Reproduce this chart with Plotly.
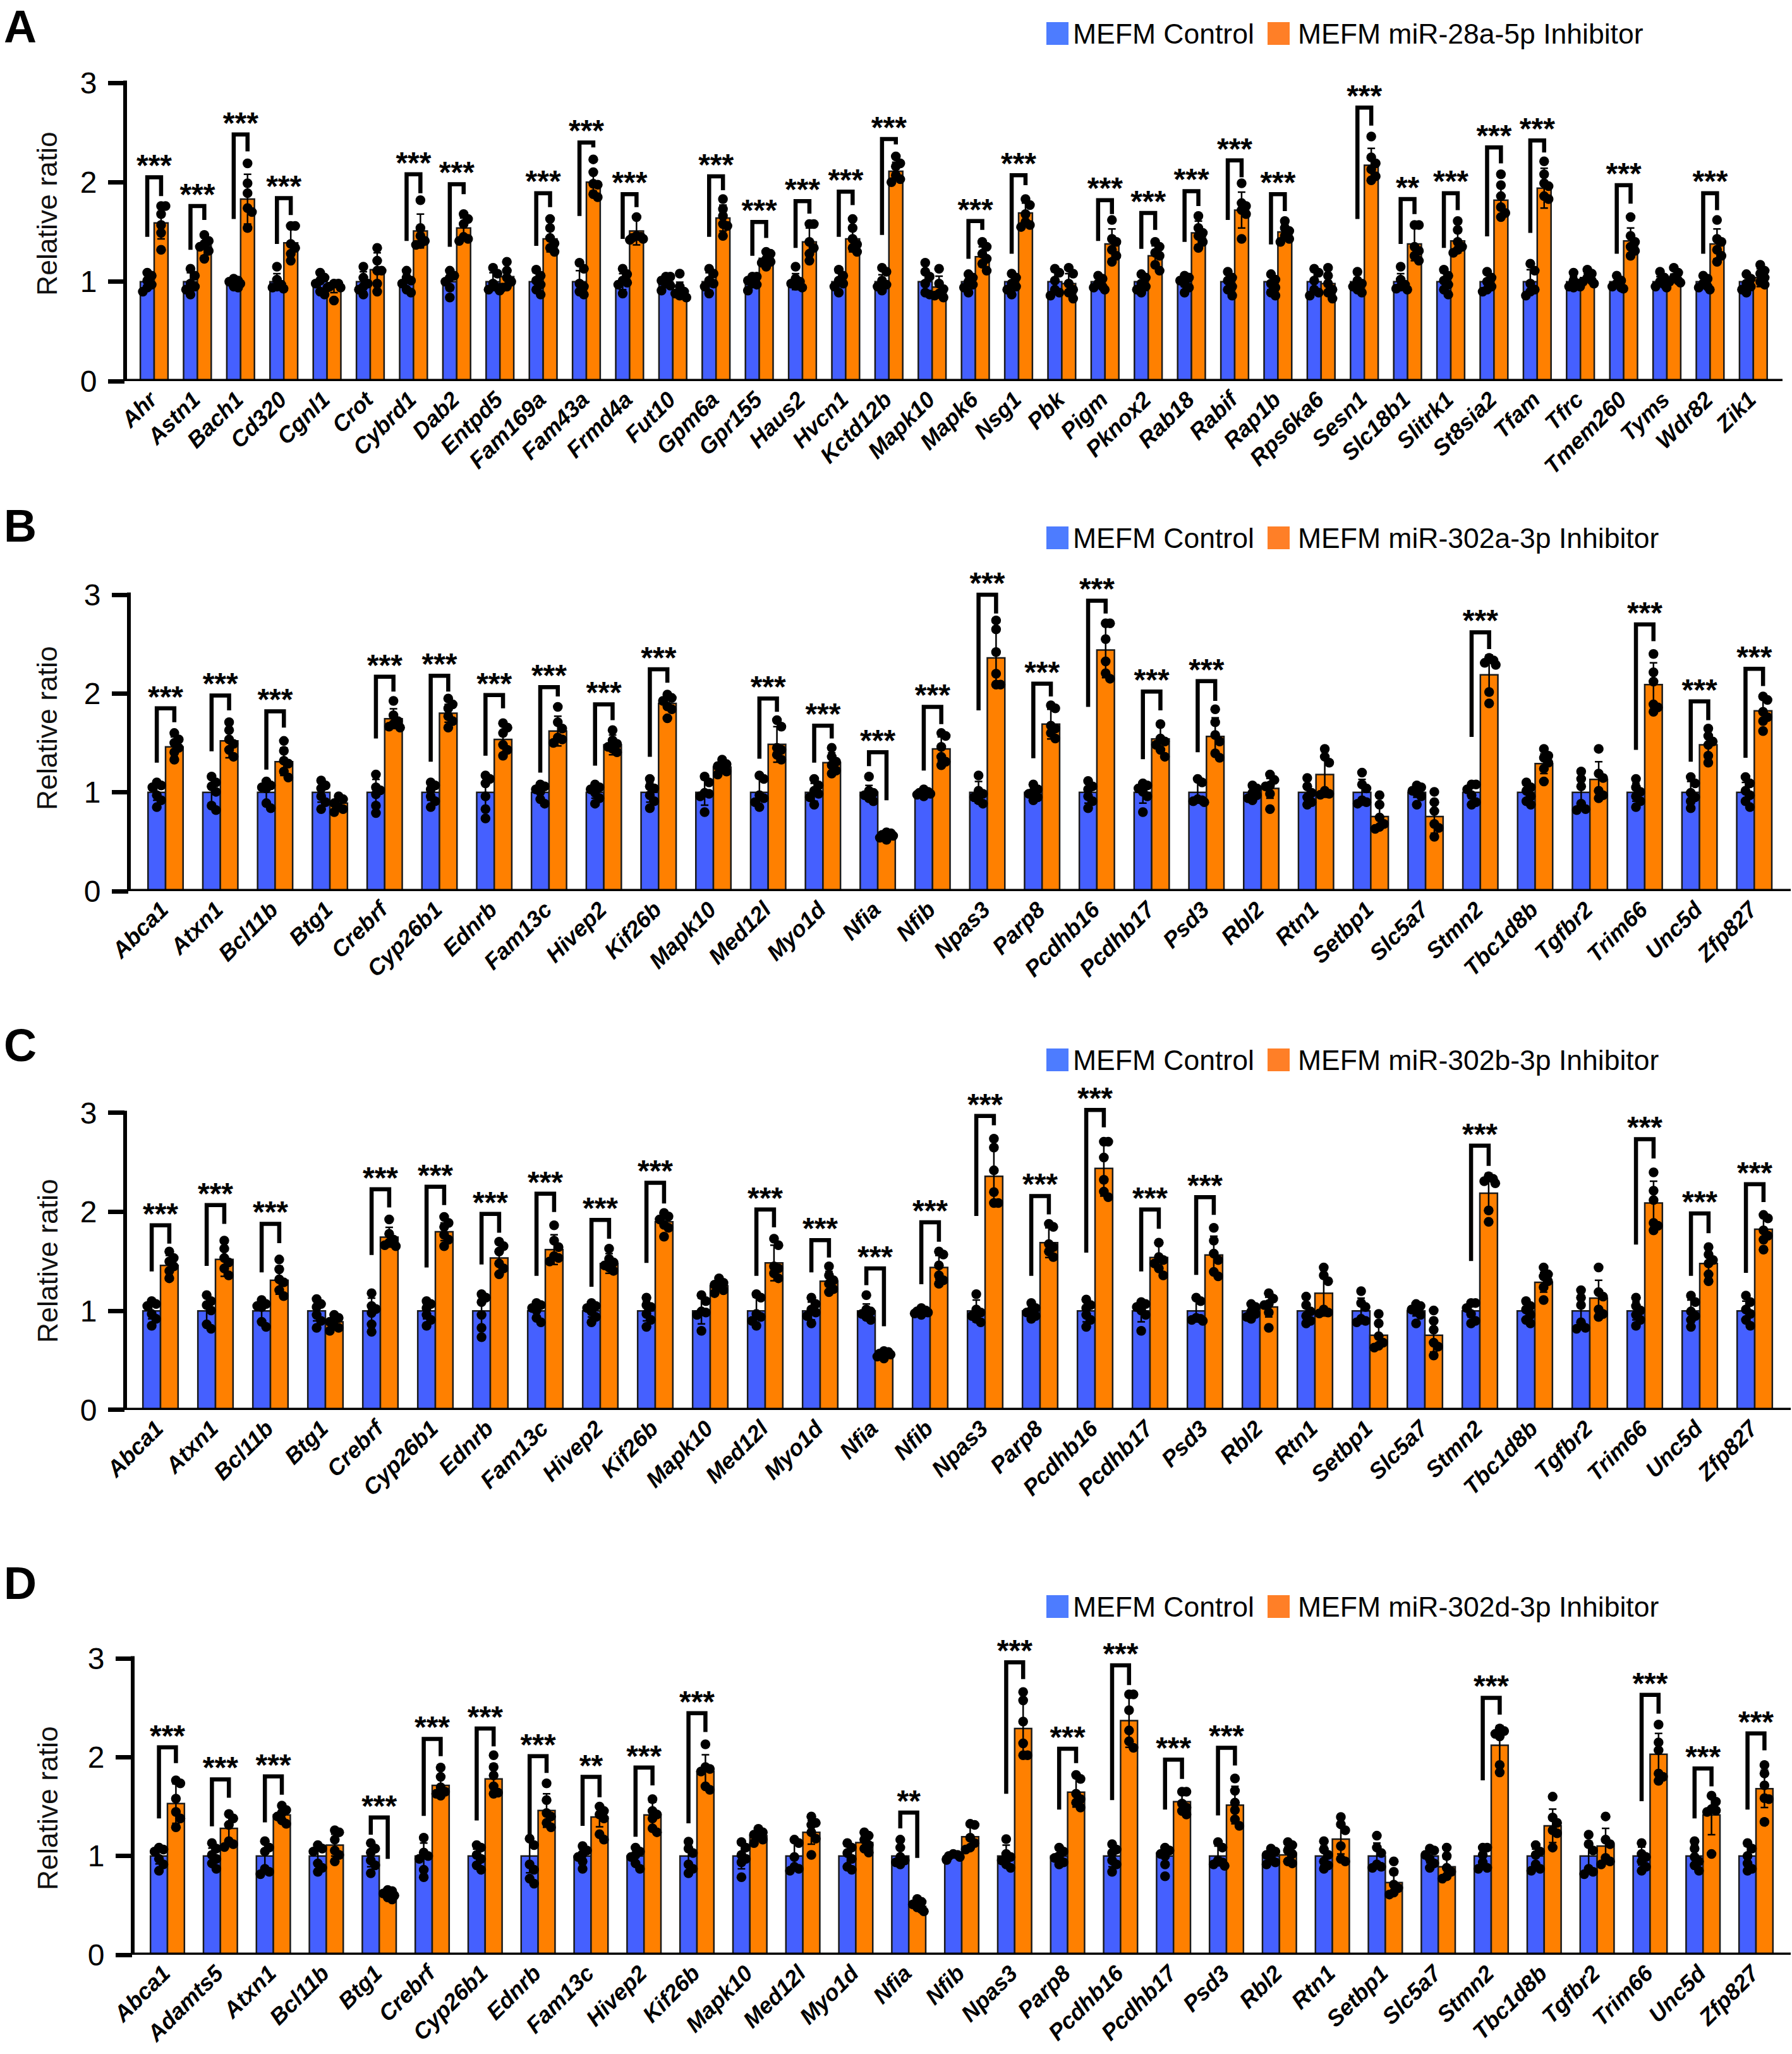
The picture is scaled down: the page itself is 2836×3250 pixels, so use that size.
import plotly.graph_objects as go

# Fonte e cores
FONT = "Liberation Sans"
BLUE = "#4560FF"
ORANGE = "#FF8000"
SWATCH_BLUE = "#4D7CFF"
SWATCH_ORANGE = "#FF7F27"
W, H = 2836, 3250
Y_MAX = 3.5  # folga acima do 3 para colchetes e estrelas

# ---------- Painel A ----------
genes_a = ["Ahr", "Astn1", "Bach1", "Cd320", "Cgnl1", "Crot", "Cybrd1", "Dab2", "Entpd5", "Fam169a",
           "Fam43a", "Frmd4a", "Fut10", "Gpm6a", "Gpr155", "Haus2", "Hvcn1", "Kctd12b", "Mapk10", "Mapk6",
           "Nsg1", "Pbk", "Pigm", "Pknox2", "Rab18", "Rabif", "Rap1b", "Rps6ka6", "Sesn1", "Slc18b1",
           "Slitrk1", "St8sia2", "Tfam", "Tfrc", "Tmem260", "Tyms", "Wdr82", "Zik1"]
inh_mean_a = [1.59, 1.36, 1.83, 1.39, 0.94, 1.12, 1.51, 1.54, 1.05, 1.43, 2.0, 1.51, 0.915, 1.64, 1.235, 1.40, 1.43, 2.11, 0.945,
              1.25, 1.69, 0.98, 1.38, 1.26, 1.49, 1.72, 1.5, 0.98, 2.17, 1.38, 1.41, 1.82, 1.94, 1.04, 1.41, 1.035, 1.38, 1.04]
inh_err_a = [0.16, 0.1, 0.25, 0.18, 0.05, 0.17, 0.17, 0.1, 0.08, 0.13, 0.09, 0.14, 0.08, 0.13, 0.07, 0.14, 0.13, 0.09, 0.11,
             0.1, 0.1, 0.1, 0.15, 0.1, 0.12, 0.18, 0.07, 0.1, 0.17, 0.17, 0.12, 0.17, 0.2, 0.04, 0.13, 0.04, 0.15, 0.09]
ctrl_err_a = [0.07, 0.09, 0.04, 0.08, 0.08, 0.1, 0.07, 0.09, 0.09, 0.09, 0.11, 0.08, 0.05, 0.09, 0.05, 0.08, 0.09, 0.07, 0.12,
              0.08, 0.09, 0.1, 0.05, 0.06, 0.05, 0.1, 0.08, 0.1, 0.07, 0.08, 0.09, 0.08, 0.12, 0.05, 0.05, 0.05, 0.05, 0.06]
ctrl_pts_a = [
    [1.09, 1.06, 1.01, 0.97, 0.94, 0.90], [1.13, 1.06, 0.98, 0.95, 0.92, 0.87], [1.03, 1.01, 1.0, 0.98, 0.95, 0.94],
    [1.15, 1.02, 0.97, 0.95, 0.94, 0.93], [1.09, 1.04, 1.01, 0.98, 0.90, 0.87], [1.15, 1.04, 0.98, 0.95, 0.92, 0.87],
    [1.11, 1.04, 1.01, 0.98, 0.92, 0.89], [1.11, 1.06, 1.04, 1.0, 0.94, 0.84], [1.14, 1.08, 0.98, 0.94, 0.92, 0.91],
    [1.12, 1.06, 1.01, 0.97, 0.92, 0.87], [1.19, 1.13, 0.98, 0.95, 0.90, 0.87], [1.13, 1.075, 1.01, 0.99, 0.97, 0.88],
    [1.05, 1.05, 1.01, 0.98, 0.96, 0.91], [1.13, 1.08, 1.01, 0.98, 0.95, 0.88], [1.05, 1.05, 1.01, 0.98, 0.97, 0.91],
    [1.15, 1.03, 1.0, 0.98, 0.96, 0.94], [1.12, 1.06, 1.01, 0.98, 0.95, 0.89], [1.14, 1.10, 1.01, 0.97, 0.95, 0.91],
    [1.19, 1.10, 1.05, 0.98, 0.89, 0.87], [1.075, 1.04, 1.0, 0.97, 0.94, 0.89], [1.08, 1.04, 0.98, 0.95, 0.92, 0.87],
    [1.13, 1.09, 1.01, 0.92, 0.89, 0.86], [1.06, 1.03, 0.98, 0.95, 0.94, 0.92], [1.075, 1.04, 0.98, 0.95, 0.92, 0.89],
    [1.06, 1.04, 1.01, 0.98, 0.94, 0.89], [1.1, 1.04, 1.01, 0.95, 0.92, 0.86], [1.075, 1.02, 0.98, 0.94, 0.89, 0.86],
    [1.13, 1.09, 1.01, 0.92, 0.89, 0.86], [1.1, 1.01, 0.98, 0.95, 0.92, 0.89], [1.15, 1.02, 0.97, 0.95, 0.93, 0.92],
    [1.12, 1.06, 1.01, 0.97, 0.92, 0.87], [1.1, 1.04, 1.0, 0.95, 0.92, 0.9], [1.18, 1.11, 0.98, 0.92, 0.9, 0.86],
    [1.09, 1.01, 0.98, 0.95, 0.95, 0.94], [1.06, 1.01, 0.98, 0.95, 0.94, 0.93], [1.1, 1.04, 1.0, 0.97, 0.95, 0.94],
    [1.06, 1.03, 0.98, 0.95, 0.94, 0.92], [1.075, 1.03, 0.98, 0.95, 0.92, 0.89]]
inh_pts_a = [
    [1.76, 1.76, 1.68, 1.57, 1.49, 1.32], [1.47, 1.41, 1.38, 1.35, 1.31, 1.23], [2.19, 1.99, 1.89, 1.74, 1.70, 1.54],
    [1.56, 1.56, 1.38, 1.34, 1.28, 1.21], [0.98, 0.98, 0.95, 0.94, 0.94, 0.81], [1.34, 1.21, 1.11, 1.11, 0.98, 0.90],
    [1.82, 1.54, 1.46, 1.41, 1.38, 1.37], [1.68, 1.63, 1.58, 1.45, 1.43, 1.41], [1.2, 1.11, 1.04, 1.0, 0.95, 0.94],
    [1.63, 1.54, 1.44, 1.385, 1.34, 1.30], [2.23, 2.10, 1.985, 1.975, 1.88, 1.85], [1.65, 1.46, 1.45, 1.44, 1.43, 1.42],
    [1.08, 0.95, 0.90, 0.88, 0.86, 0.84], [1.83, 1.73, 1.66, 1.58, 1.56, 1.46], [1.30, 1.28, 1.225, 1.2, 1.19, 1.15],
    [1.58, 1.58, 1.40, 1.34, 1.28, 1.21], [1.63, 1.54, 1.43, 1.375, 1.34, 1.30], [2.26, 2.19, 2.16, 2.07, 2.03, 2.0],
    [1.13, 0.98, 0.925, 0.88, 0.86, 0.84], [1.40, 1.35, 1.28, 1.23, 1.18, 1.11], [1.83, 1.77, 1.68, 1.6, 1.57, 1.55],
    [1.14, 1.08, 0.98, 0.92, 0.89, 0.83], [1.62, 1.43, 1.4, 1.32, 1.26, 1.2], [1.4, 1.35, 1.29, 1.26, 1.17, 1.11],
    [1.66, 1.54, 1.49, 1.46, 1.4, 1.34], [1.99, 1.79, 1.76, 1.72, 1.68, 1.43], [1.61, 1.54, 1.51, 1.46, 1.43, 1.4],
    [1.14, 1.06, 0.98, 0.92, 0.89, 0.83], [2.46, 2.25, 2.19, 2.13, 2.06, 2.02], [1.57, 1.57, 1.35, 1.31, 1.26, 1.21],
    [1.61, 1.52, 1.4, 1.35, 1.32, 1.29], [2.08, 1.97, 1.86, 1.75, 1.69, 1.65], [2.21, 2.08, 1.99, 1.96, 1.86, 1.83],
    [1.12, 1.08, 1.04, 1.01, 1.0, 0.98], [1.65, 1.46, 1.4, 1.35, 1.31, 1.26], [1.14, 1.09, 1.04, 1.01, 1.0, 0.99],
    [1.62, 1.43, 1.4, 1.32, 1.26, 1.2], [1.17, 1.11, 1.08, 1.04, 1.0, 0.97]]
# gene: (estrelas, topo, perna esquerda, perna direita)
sig_a = {"Ahr": ("***", 2.05, 1.45, 1.86), "Astn1": ("***", 1.76, 1.32, 1.62), "Bach1": ("***", 2.48, 1.63, 2.31),
         "Cd320": ("***", 1.84, 1.38, 1.67), "Cybrd1": ("***", 2.08, 1.41, 1.89), "Dab2": ("***", 1.98, 1.35, 1.88),
         "Fam169a": ("***", 1.89, 1.36, 1.75), "Fam43a": ("***", 2.40, 1.66, 2.35), "Frmd4a": ("***", 1.88, 1.43, 1.75),
         "Gpm6a": ("***", 2.06, 1.45, 1.92), "Gpr155": ("***", 1.60, 1.26, 1.44), "Haus2": ("***", 1.81, 1.34, 1.685),
         "Hvcn1": ("***", 1.905, 1.45, 1.77), "Kctd12b": ("***", 2.435, 1.47, 2.38), "Mapk6": ("***", 1.61, 1.23, 1.52),
         "Nsg1": ("***", 2.07, 1.28, 1.97), "Pigm": ("***", 1.82, 1.41, 1.68), "Pknox2": ("***", 1.69, 1.33, 1.52),
         "Rab18": ("***", 1.91, 1.40, 1.76), "Rabif": ("***", 2.22, 1.62, 2.05), "Rap1b": ("***", 1.88, 1.375, 1.71),
         "Sesn1": ("***", 2.75, 1.63, 2.57), "Slc18b1": ("**", 1.83, 1.38, 1.68), "Slitrk1": ("***", 1.89, 1.34, 1.72),
         "St8sia2": ("***", 2.35, 1.455, 2.19), "Tfam": ("***", 2.42, 1.49, 2.3), "Tmem260": ("***", 1.97, 1.28, 1.785),
         "Wdr82": ("***", 1.89, 1.28, 1.72)}

# ---------- Paineis B e C (mesmos valores de barras) ----------
genes_b = ["Abca1", "Atxn1", "Bcl11b", "Btg1", "Crebrf", "Cyp26b1", "Ednrb", "Fam13c", "Hivep2", "Kif26b",
           "Mapk10", "Med12l", "Myo1d", "Nfia", "Nfib", "Npas3", "Parp8", "Pcdhb16", "Pcdhb17", "Psd3",
           "Rbl2", "Rtn1", "Setbp1", "Slc5a7", "Stmn2", "Tbc1d8b", "Tgfbr2", "Trim66", "Unc5d", "Zfp827"]
inh_mean_b = [1.46, 1.52, 1.31, 0.89, 1.745, 1.80, 1.535, 1.62, 1.48, 1.90, 1.255, 1.485, 1.30, 0.56, 1.44,
              2.36, 1.69, 2.44, 1.54, 1.565, 1.04, 1.18, 0.755, 0.755, 2.19, 1.29, 1.13, 2.09, 1.48, 1.825]
inh_err_b = [0.1, 0.17, 0.14, 0.05, 0.1, 0.09, 0.14, 0.15, 0.1, 0.05, 0.05, 0.18, 0.1, 0.02, 0.12,
             0.29, 0.15, 0.28, 0.13, 0.19, 0.1, 0.23, 0.1, 0.17, 0.2, 0.1, 0.18, 0.22, 0.1, 0.12]
ctrl_err_b = [0.08, 0.14, 0.09, 0.1, 0.13, 0.08, 0.17, 0.07, 0.06, 0.1, 0.13, 0.14, 0.09, 0.07, 0.02,
              0.11, 0.06, 0.11, 0.11, 0.11, 0.06, 0.12, 0.13, 0.05, 0.06, 0.07, 0.15, 0.09, 0.11, 0.1]
ctrl_pts_b = [
    [1.10, 1.07, 1.05, 0.97, 0.92, 0.85], [1.16, 1.10, 1.06, 1.005, 0.865, 0.82], [1.11, 1.07, 1.05, 1.04, 0.89, 0.84],
    [1.12, 1.07, 1.04, 0.96, 0.9, 0.83], [1.18, 1.05, 1.02, 0.98, 0.865, 0.79], [1.10, 1.07, 1.03, 0.96, 0.91, 0.85],
    [1.17, 1.135, 1.09, 0.96, 0.83, 0.735], [1.08, 1.06, 1.03, 1.005, 0.93, 0.885], [1.08, 1.05, 1.03, 0.995, 0.94, 0.885],
    [1.135, 1.06, 1.04, 0.97, 0.91, 0.84], [1.16, 1.10, 0.995, 0.985, 0.96, 0.8], [1.17, 1.135, 0.97, 0.94, 0.9, 0.85],
    [1.135, 1.07, 1.015, 0.985, 0.95, 0.875], [1.16, 1.015, 0.995, 0.97, 0.94, 0.91], [1.03, 1.005, 0.995, 0.985, 0.975, 0.96],
    [1.17, 1.015, 0.985, 0.95, 0.92, 0.885], [1.08, 1.03, 1.005, 0.985, 0.95, 0.92], [1.115, 1.06, 1.03, 0.96, 0.91, 0.84],
    [1.09, 1.07, 1.04, 1.005, 0.96, 0.8], [1.135, 1.10, 0.93, 0.92, 0.91, 0.9], [1.07, 1.04, 0.995, 0.97, 0.94, 0.92],
    [1.145, 1.06, 0.995, 0.95, 0.9, 0.875], [1.2, 1.08, 1.04, 0.92, 0.9, 0.885], [1.07, 1.05, 1.015, 0.995, 0.96, 0.875],
    [1.08, 1.08, 1.03, 0.97, 0.9, 0.875], [1.10, 1.05, 1.015, 0.96, 0.91, 0.875], [1.21, 1.135, 1.06, 0.885, 0.83, 0.82],
    [1.135, 1.05, 1.005, 0.96, 0.91, 0.85], [1.155, 1.09, 0.995, 0.95, 0.91, 0.84], [1.155, 1.09, 1.015, 0.97, 0.91, 0.85]]
inh_pts_b = [
    [1.6, 1.535, 1.50, 1.45, 1.405, 1.33], [1.71, 1.63, 1.535, 1.49, 1.43, 1.36], [1.52, 1.42, 1.32, 1.29, 1.21, 1.15],
    [0.96, 0.93, 0.89, 0.85, 0.83, 0.80], [1.925, 1.78, 1.72, 1.69, 1.665, 1.655], [1.95, 1.89, 1.85, 1.77, 1.72, 1.655],
    [1.70, 1.655, 1.6, 1.48, 1.43, 1.37], [1.865, 1.71, 1.645, 1.555, 1.535, 1.50], [1.63, 1.525, 1.49, 1.46, 1.44, 1.405],
    [1.99, 1.955, 1.925, 1.87, 1.84, 1.75], [1.33, 1.285, 1.265, 1.24, 1.21, 1.18], [1.73, 1.665, 1.45, 1.43, 1.38, 1.33],
    [1.45, 1.36, 1.31, 1.275, 1.22, 1.19], [0.595, 0.585, 0.57, 0.56, 0.54, 0.52], [1.60, 1.57, 1.46, 1.36, 1.31, 1.275],
    [2.74, 2.65, 2.42, 2.2, 2.09, 2.09], [1.88, 1.85, 1.675, 1.645, 1.6, 1.545], [2.71, 2.71, 2.55, 2.325, 2.205, 2.15],
    [1.69, 1.545, 1.515, 1.48, 1.43, 1.36], [1.84, 1.71, 1.58, 1.515, 1.395, 1.35], [1.18, 1.125, 1.07, 1.06, 0.985, 0.83],
    [1.44, 1.36, 1.30, 1.015, 0.985, 0.975], [0.97, 0.875, 0.745, 0.68, 0.65, 0.63], [1.005, 0.9, 0.81, 0.68, 0.64, 0.55],
    [2.36, 2.335, 2.31, 2.29, 2.015, 1.90], [1.44, 1.37, 1.35, 1.3, 1.24, 1.11], [1.44, 1.19, 1.145, 1.015, 0.97, 0.94],
    [2.4, 2.215, 2.12, 1.89, 1.86, 1.815], [1.645, 1.57, 1.515, 1.48, 1.37, 1.30], [1.97, 1.935, 1.815, 1.76, 1.72, 1.62]]
sig_b = {"Abca1": ("***", 1.85, 1.30, 1.71), "Atxn1": ("***", 1.98, 1.415, 1.83), "Bcl11b": ("***", 1.82, 1.23, 1.655),
         "Crebrf": ("***", 2.17, 1.545, 2.02), "Cyp26b1": ("***", 2.18, 1.31, 2.02), "Ednrb": ("***", 1.985, 1.37, 1.85),
         "Fam13c": ("***", 2.065, 1.2, 1.97), "Hivep2": ("***", 1.89, 1.27, 1.73), "Kif26b": ("***", 2.245, 1.36, 2.11),
         "Med12l": ("***", 1.95, 1.34, 1.815), "Myo1d": ("***", 1.675, 1.30, 1.545), "Nfia": ("***", 1.405, 1.265, 0.92),
         "Nfib": ("***", 1.865, 1.22, 1.69), "Npas3": ("***", 3.0, 1.83, 2.81), "Parp8": ("***", 2.10, 1.345, 1.97),
         "Pcdhb16": ("***", 2.94, 1.865, 2.81), "Pcdhb17": ("***", 2.02, 1.335, 1.83), "Psd3": ("***", 2.125, 1.405, 1.925),
         "Stmn2": ("***", 2.62, 1.56, 2.45), "Trim66": ("***", 2.70, 1.43, 2.53), "Unc5d": ("***", 1.92, 1.31, 1.73),
         "Zfp827": ("***", 2.25, 1.35, 2.075)}
sig_c = {"Abca1": ("***", 1.865, 1.40, 1.68), "Atxn1": ("***", 2.07, 1.455, 1.88), "Bcl11b": ("***", 1.88, 1.39, 1.685),
         "Crebrf": ("***", 2.23, 1.565, 2.045), "Cyp26b1": ("***", 2.255, 1.44, 2.07), "Ednrb": ("***", 1.98, 1.47, 1.79),
         "Fam13c": ("***", 2.185, 1.355, 2.0), "Hivep2": ("***", 1.92, 1.245, 1.73), "Kif26b": ("***", 2.295, 1.485, 2.085),
         "Med12l": ("***", 2.025, 1.355, 1.845), "Myo1d": ("***", 1.715, 1.39, 1.54), "Nfia": ("***", 1.43, 1.26, 0.845),
         "Nfib": ("***", 1.895, 1.27, 1.70), "Npas3": ("***", 2.97, 1.96, 2.875), "Parp8": ("***", 2.16, 1.355, 1.975),
         "Pcdhb16": ("***", 3.03, 1.59, 2.855), "Pcdhb17": ("***", 2.025, 1.40, 1.83), "Psd3": ("***", 2.15, 1.365, 1.97),
         "Stmn2": ("***", 2.67, 1.505, 2.465), "Trim66": ("***", 2.735, 1.67, 2.54), "Unc5d": ("***", 1.985, 1.355, 1.785),
         "Zfp827": ("***", 2.28, 1.385, 2.10)}

# ---------- Painel D ----------
genes_d = ["Abca1", "Adamts5", "Atxn1", "Bcl11b", "Btg1", "Crebrf", "Cyp26b1", "Ednrb", "Fam13c", "Hivep2", "Kif26b",
           "Mapk10", "Med12l", "Myo1d", "Nfia", "Nfib", "Npas3", "Parp8", "Pcdhb16", "Pcdhb17", "Psd3",
           "Rbl2", "Rtn1", "Setbp1", "Slc5a7", "Stmn2", "Tbc1d8b", "Tgfbr2", "Trim66", "Unc5d", "Zfp827"]
inh_mean_d = [1.53, 1.28, 1.415, 1.11, 0.61, 1.715, 1.78, 1.46, 1.395, 1.415, 1.855, 1.205, 1.24, 1.135, 0.49, 1.195,
              2.29, 1.645, 2.37, 1.55, 1.515, 1.01, 1.17, 0.73, 0.89, 2.12, 1.305, 1.10, 2.03, 1.415, 1.68]
inh_err_d = [0.2, 0.17, 0.07, 0.11, 0.03, 0.1, 0.15, 0.17, 0.1, 0.13, 0.17, 0.05, 0.12, 0.07, 0.03, 0.12,
             0.29, 0.15, 0.27, 0.1, 0.19, 0.08, 0.15, 0.08, 0.08, 0.2, 0.17, 0.18, 0.21, 0.2, 0.19]
ctrl_err_d = [0.08, 0.08, 0.13, 0.1, 0.11, 0.13, 0.07, 0.17, 0.07, 0.07, 0.1, 0.13, 0.14, 0.1, 0.09, 0.02,
              0.11, 0.06, 0.11, 0.1, 0.1, 0.05, 0.1, 0.13, 0.07, 0.07, 0.07, 0.15, 0.09, 0.11, 0.1]
ctrl_pts_d = [
    [1.085, 1.065, 1.045, 0.97, 0.915, 0.85], [1.13, 1.075, 1.01, 0.97, 0.925, 0.87], [1.15, 1.085, 1.045, 0.87, 0.84, 0.815],
    [1.11, 1.075, 1.045, 0.925, 0.88, 0.84], [1.13, 1.075, 1.035, 0.955, 0.905, 0.825], [1.185, 1.035, 1.0, 0.97, 0.86, 0.785],
    [1.11, 1.085, 1.01, 0.97, 0.905, 0.86], [1.175, 1.11, 0.915, 0.86, 0.77, 0.72], [1.10, 1.055, 1.02, 0.99, 0.945, 0.87],
    [1.085, 1.045, 1.01, 0.99, 0.925, 0.87], [1.145, 1.075, 1.03, 0.915, 0.87, 0.825], [1.14, 1.085, 1.01, 0.97, 0.935, 0.785],
    [1.165, 1.13, 0.99, 0.89, 0.87, 0.85], [1.13, 1.085, 1.03, 0.97, 0.89, 0.86], [1.165, 1.085, 0.99, 0.955, 0.935, 0.915],
    [1.02, 1.01, 1.0, 0.99, 0.97, 0.96], [1.17, 1.02, 0.99, 0.955, 0.915, 0.88], [1.085, 1.045, 1.0, 0.98, 0.935, 0.915],
    [1.12, 1.065, 1.03, 0.955, 0.915, 0.84], [1.085, 1.055, 1.02, 1.0, 0.915, 0.795], [1.14, 1.085, 0.955, 0.935, 0.915, 0.9],
    [1.075, 1.045, 1.01, 0.98, 0.935, 0.915], [1.15, 1.065, 1.01, 0.945, 0.905, 0.87], [1.205, 1.085, 1.03, 0.915, 0.89, 0.88],
    [1.075, 1.055, 1.01, 0.97, 0.925, 0.88], [1.085, 1.085, 1.01, 0.935, 0.88, 0.87], [1.11, 1.045, 1.01, 0.915, 0.87, 0.85],
    [1.215, 1.12, 1.055, 0.87, 0.84, 0.815], [1.13, 1.02, 0.99, 0.945, 0.89, 0.85], [1.15, 1.075, 0.99, 0.945, 0.905, 0.85],
    [1.13, 1.075, 1.0, 0.925, 0.87, 0.85]]
inh_pts_d = [
    [1.765, 1.735, 1.58, 1.445, 1.38, 1.29], [1.425, 1.38, 1.315, 1.15, 1.12, 1.09], [1.51, 1.465, 1.435, 1.40, 1.36, 1.325],
    [1.26, 1.24, 1.165, 1.055, 1.01, 0.945], [0.655, 0.645, 0.62, 0.60, 0.58, 0.56], [1.895, 1.80, 1.695, 1.65, 1.63, 1.61],
    [2.02, 1.90, 1.815, 1.705, 1.64, 1.63], [1.735, 1.565, 1.435, 1.40, 1.335, 1.29], [1.50, 1.455, 1.42, 1.38, 1.22, 1.165],
    [1.575, 1.455, 1.42, 1.38, 1.28, 1.24], [2.13, 1.90, 1.88, 1.855, 1.705, 1.67], [1.275, 1.24, 1.215, 1.195, 1.165, 1.13],
    [1.40, 1.335, 1.315, 1.24, 1.175, 1.01], [1.24, 1.205, 1.165, 1.11, 1.075, 1.035], [0.565, 0.535, 0.51, 0.48, 0.46, 0.44],
    [1.325, 1.315, 1.185, 1.13, 1.085, 1.065], [2.66, 2.575, 2.36, 2.14, 2.02, 2.02], [1.82, 1.78, 1.63, 1.575, 1.54, 1.49],
    [2.635, 2.635, 2.475, 2.27, 2.16, 2.095], [1.65, 1.65, 1.53, 1.49, 1.455, 1.42], [1.785, 1.66, 1.54, 1.465, 1.37, 1.305],
    [1.14, 1.11, 1.055, 1.02, 0.945, 0.925], [1.395, 1.32, 1.26, 1.10, 0.97, 0.945], [0.945, 0.84, 0.71, 0.675, 0.63, 0.61],
    [1.085, 1.0, 0.88, 0.84, 0.795, 0.77], [2.29, 2.265, 2.235, 2.21, 1.92, 1.845], [1.6, 1.39, 1.335, 1.26, 1.23, 1.085],
    [1.40, 1.165, 1.12, 0.98, 0.945, 0.915], [2.33, 2.15, 2.07, 1.835, 1.80, 1.76], [1.61, 1.55, 1.475, 1.46, 1.445, 1.02],
    [1.92, 1.835, 1.715, 1.585, 1.575, 1.345]]
sig_d = {"Abca1": ("***", 2.10, 1.38, 1.94), "Adamts5": ("***", 1.775, 1.30, 1.59), "Atxn1": ("***", 1.805, 1.34, 1.62),
         "Btg1": ("***", 1.39, 1.215, 0.97), "Crebrf": ("***", 2.185, 1.405, 2.01), "Cyp26b1": ("***", 2.29, 1.36, 2.11),
         "Ednrb": ("***", 2.01, 1.215, 1.84), "Fam13c": ("**", 1.80, 1.305, 1.595), "Hivep2": ("***", 1.895, 1.195, 1.715),
         "Kif26b": ("***", 2.445, 1.33, 2.255), "Nfia": ("**", 1.44, 1.28, 0.98), "Npas3": ("***", 2.96, 1.63, 2.79),
         "Parp8": ("***", 2.085, 1.47, 1.94), "Pcdhb16": ("***", 2.93, 1.565, 2.73), "Pcdhb17": ("***", 1.975, 1.47, 1.78),
         "Psd3": ("***", 2.095, 1.41, 1.915), "Stmn2": ("***", 2.60, 1.765, 2.43), "Trim66": ("***", 2.63, 1.555, 2.44),
         "Unc5d": ("***", 1.885, 1.38, 1.705), "Zfp827": ("***", 2.24, 1.47, 2.07)}

# Layout de cada painel, em pixels
panels = [
    dict(letter="A", letter_y=42, genes=genes_a, inh_mean=inh_mean_a, inh_err=inh_err_a, ctrl_err=ctrl_err_a,
         ctrl_pts=ctrl_pts_a, inh_pts=inh_pts_a, sig=sig_a, legend="MEFM miR-28a-5p Inhibitor", legend_y=53,
         left=198, right=2821, top=131, bottom=603, first=244, pitch=68.4, title_y=338),
    dict(letter="B", letter_y=832, genes=genes_b, inh_mean=inh_mean_b, inh_err=inh_err_b, ctrl_err=ctrl_err_b,
         ctrl_pts=ctrl_pts_b, inh_pts=inh_pts_b, sig=sig_b, legend="MEFM miR-302a-3p Inhibitor", legend_y=851,
         left=204, right=2834, top=941, bottom=1410, first=262, pitch=86.7, title_y=1152),
    dict(letter="C", letter_y=1654, genes=genes_b, inh_mean=inh_mean_b, inh_err=inh_err_b, ctrl_err=ctrl_err_b,
         ctrl_pts=ctrl_pts_b, inh_pts=inh_pts_b, sig=sig_c, legend="MEFM miR-302b-3p Inhibitor", legend_y=1677,
         left=198, right=2834, top=1761, bottom=2231, first=254, pitch=87.0, title_y=1995),
    dict(letter="D", letter_y=2505, genes=genes_d, inh_mean=inh_mean_d, inh_err=inh_err_d, ctrl_err=ctrl_err_d,
         ctrl_pts=ctrl_pts_d, inh_pts=inh_pts_d, sig=sig_d, legend="MEFM miR-302d-3p Inhibitor", legend_y=2542,
         left=210, right=2834, top=2624, bottom=3093, first=265, pitch=83.8, title_y=2861),
]


# Espalha os pontos para os lados quando ficam muito proximos
def swarm(values, step):
    placed, offsets = [], []
    for v in values:
        for off in (0, step, -step, 1.5 * step, -1.5 * step):
            if all(abs(v - pv) > 0.07 or off != po for pv, po in placed):
                break
        placed.append((v, off))
        offsets.append(off)
    return offsets


fig = go.Figure()
annotations, shapes = [], []

for n, p in enumerate(panels):
    suffix = "" if n == 0 else str(n + 1)
    xa, ya = "x" + suffix, "y" + suffix
    idx = list(range(len(p["genes"])))
    bar_w = 0.32
    step = 7 / p["pitch"]
    unit = (p["bottom"] - p["top"]) / 3
    plot_top = p["bottom"] - Y_MAX * unit

    fig.add_trace(go.Bar(x=[i - bar_w / 2 for i in idx], y=[1.0] * len(idx), width=bar_w, xaxis=xa, yaxis=ya,
                         marker=dict(color=BLUE, line=dict(color="#1a1a1a", width=2.5)),
                         error_y=dict(type="data", array=p["ctrl_err"], color="black", thickness=2.5, width=6),
                         name="MEFM Control", showlegend=False))
    fig.add_trace(go.Bar(x=[i + bar_w / 2 for i in idx], y=p["inh_mean"], width=bar_w, xaxis=xa, yaxis=ya,
                         marker=dict(color=ORANGE, line=dict(color="#1a1a1a", width=2.5)),
                         error_y=dict(type="data", array=p["inh_err"], color="black", thickness=2.5, width=6),
                         name=p["legend"], showlegend=False))

    # Pontos individuais
    px, py = [], []
    for i in idx:
        for pts, side in ((p["ctrl_pts"][i], -1), (p["inh_pts"][i], 1)):
            offs = swarm(pts, step)
            px += [i + side * bar_w / 2 + o for o in offs]
            py += pts
    fig.add_trace(go.Scatter(x=px, y=py, mode="markers", xaxis=xa, yaxis=ya, showlegend=False,
                             marker=dict(color="black", size=15.5, line=dict(width=0)), cliponaxis=False))

    # Colchetes de significancia e estrelas
    bx, by, sx, sy, st = [], [], [], [], []
    for gene, (stars, top, left_leg, right_leg) in p["sig"].items():
        i = p["genes"].index(gene)
        bx += [i - bar_w / 2, i - bar_w / 2, i + bar_w / 2, i + bar_w / 2, None]
        by += [left_leg, top, top, right_leg, None]
        sx.append(i)
        sy.append(top + 0.09)
        st.append(stars)
    fig.add_trace(go.Scatter(x=bx, y=by, mode="lines", xaxis=xa, yaxis=ya, showlegend=False,
                             line=dict(color="black", width=6.5), cliponaxis=False))
    fig.add_trace(go.Scatter(x=sx, y=sy, mode="text", text=st, xaxis=xa, yaxis=ya, showlegend=False,
                             textposition="middle center", cliponaxis=False,
                             textfont=dict(family=FONT, size=48, color="black", weight="bold")))

    axis_x = dict(domain=[p["left"] / W, p["right"] / W], anchor=ya, automargin=False,
                  range=[(p["left"] - p["first"]) / p["pitch"], (p["right"] - p["first"]) / p["pitch"]],
                  tickmode="array", tickvals=idx, ticktext=p["genes"], tickangle=-45, ticks="", ticklabelshift=-6,
                  tickfont=dict(family=FONT, size=36, color="black", weight="bold", style="italic"),
                  showline=False, showgrid=False, zeroline=False)
    axis_y = dict(domain=[1 - p["bottom"] / H, 1 - plot_top / H], anchor=xa, range=[0, Y_MAX], automargin=False,
                  tickmode="array", tickvals=[0, 1, 2, 3], ticks="outside", ticklen=26, tickwidth=7, tickcolor="black",
                  tickfont=dict(family=FONT, size=48, color="black"), ticklabelstandoff=8,
                  showline=False, showgrid=False, zeroline=False)
    fig.update_layout({"xaxis" + suffix: axis_x, "yaxis" + suffix: axis_y})

    # Eixos desenhados como linhas: o y para no 3 e o x fica centrado no 0
    shapes.append(dict(type="line", xref=xa + " domain", yref=ya, x0=0, x1=0, y0=0, y1=3 + 3.5 / unit,
                       line=dict(color="black", width=6)))
    shapes.append(dict(type="line", xref=xa + " domain", yref=ya, x0=0, x1=1, y0=0, y1=0,
                       line=dict(color="black", width=7)))

    # Letra do painel, titulo do eixo y
    annotations.append(dict(text=p["letter"], x=4 / W, y=1 - p["letter_y"] / H, xref="paper", yref="paper",
                            xanchor="left", yanchor="middle", showarrow=False,
                            font=dict(family=FONT, size=72, color="black", weight="bold")))
    annotations.append(dict(text="Relative ratio", x=75 / W, y=1 - p["title_y"] / H, xref="paper", yref="paper",
                            xanchor="center", yanchor="middle", textangle=-90, showarrow=False,
                            font=dict(family=FONT, size=44.5, color="#111111")))

    # Legenda feita a mao (quadrados sem contorno, como no original)
    ly = p["legend_y"]
    for x0, color in ((1656, SWATCH_BLUE), (2006, SWATCH_ORANGE)):
        shapes.append(dict(type="rect", xref="paper", yref="paper", x0=x0 / W, x1=(x0 + 35) / W,
                           y0=1 - (ly + 18) / H, y1=1 - (ly - 18) / H, fillcolor=color, line=dict(width=0)))
    for x0, label in ((1696, "MEFM Control"), (2052, p["legend"])):
        annotations.append(dict(text=label, x=x0 / W, y=1 - ly / H, xref="paper", yref="paper", xanchor="left",
                                yanchor="middle", showarrow=False, font=dict(family=FONT, size=44.5, color="black")))

fig.update_layout(width=W, height=H, margin=dict(l=0, r=0, t=0, b=0), barmode="overlay",
                  paper_bgcolor="white", plot_bgcolor="white", showlegend=False,
                  annotations=annotations, shapes=shapes)

fig.write_html("out.html", config={"displayModeBar": False}, post_script="document.body.style.margin='0';")
